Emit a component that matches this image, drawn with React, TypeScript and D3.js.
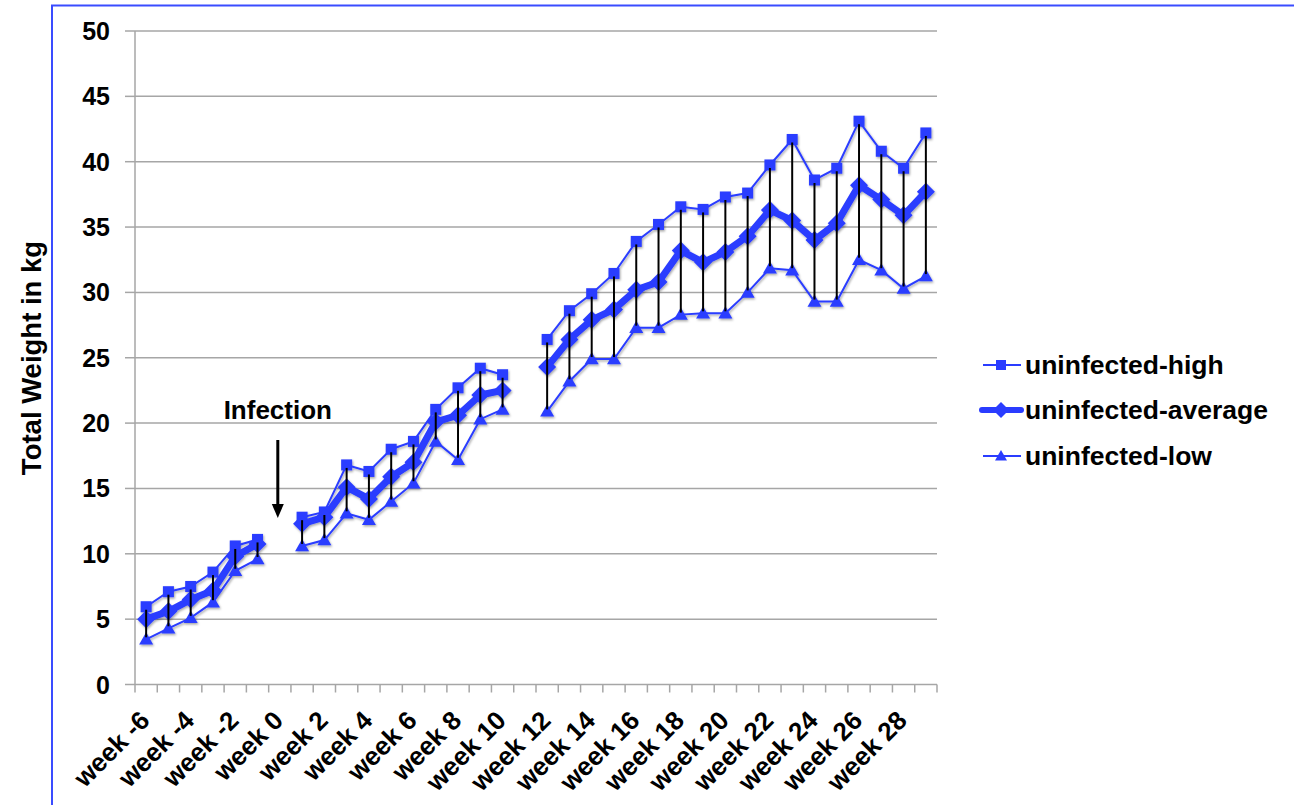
import React from "react";
import * as d3 from "d3";

// Week categories along the x axis (week 0 and week 11 have no measurements)
const weeks: number[] = [
  -6, -5, -4, -3, -2, -1, 0, 1, 2, 3, 4, 5, 6, 7, 8, 9, 10, 11,
  12, 13, 14, 15, 16, 17, 18, 19, 20, 21, 22, 23, 24, 25, 26, 27, 28, 29,
];

// Weeks that get a tick label
const labelledWeeks: number[] = [-6, -4, -2, 0, 2, 4, 6, 8, 10, 12, 14, 16, 18, 20, 22, 24, 26, 28];

const uninfectedHigh: (number | null)[] = [
  5.95, 7.1, 7.5, 8.6, 10.6, 11.1, null, 12.8, 13.2, 16.8, 16.3, 18.0, 18.6, 21.05, 22.7, 24.2, 23.7, null,
  26.4, 28.6, 29.9, 31.45, 33.9, 35.2, 36.55, 36.35, 37.3, 37.6, 39.75, 41.7, 38.6, 39.5, 43.1, 40.8, 39.5, 42.2,
];

const uninfectedAverage: (number | null)[] = [
  5.0, 5.6, 6.5, 7.2, 9.8, 10.75, null, 12.3, 12.8, 15.1, 14.2, 15.9, 17.0, 20.1, 20.6, 22.15, 22.5, null,
  24.3, 26.4, 27.9, 28.7, 30.2, 30.8, 33.2, 32.3, 33.1, 34.3, 36.3, 35.5, 34.0, 35.3, 38.2, 37.1, 35.9, 37.7,
];

const uninfectedLow: (number | null)[] = [
  3.46, 4.3, 5.1, 6.3, 8.7, 9.6, null, 10.6, 11.05, 13.1, 12.6, 14.0, 15.4, 18.6, 17.2, 20.3, 21.05, null,
  20.9, 23.2, 24.9, 24.9, 27.3, 27.3, 28.3, 28.4, 28.4, 30.0, 31.85, 31.7, 29.3, 29.3, 32.5, 31.7, 30.3, 31.25,
];

const yTicks: number[] = [0, 5, 10, 15, 20, 25, 30, 35, 40, 45, 50];

const BLUE = "#2a3cff";
const GRID = "#a6a6a6";
const FONT = "'Liberation Sans', Arial, Helvetica, sans-serif";

const PLOT = { left: 135, right: 937, top: 31, bottom: 684.5 };

export default function App() {
  const x = d3.scaleBand<number>().domain(weeks).range([PLOT.left, PLOT.right]).padding(0);
  const y = d3.scaleLinear().domain([0, 50]).range([PLOT.bottom, PLOT.top]);
  const bw = x.bandwidth();
  const cx = (w: number) => (x(w) as number) + bw / 2;

  const lineGen = d3
    .line<number | null>()
    .defined((d) => d != null)
    .x((_, i) => cx(weeks[i]))
    .y((d) => y(d as number));

  const pts = (vals: (number | null)[]) =>
    vals
      .map((v, i) => ({ v, w: weeks[i] }))
      .filter((p) => p.v != null) as { v: number; w: number }[];

  const square = (px: number, py: number, s = 11) => (
    <rect x={px - s / 2} y={py - s / 2} width={s} height={s} fill={BLUE} />
  );
  const diamond = (px: number, py: number, s = 9) => (
    <path d={`M${px},${py - s} L${px + s},${py} L${px},${py + s} L${px - s},${py} Z`} fill={BLUE} />
  );
  const triangle = (px: number, py: number, s = 7) => (
    <path d={`M${px},${py - s} L${px + s},${py + s * 0.75} L${px - s},${py + s * 0.75} Z`} fill={BLUE} />
  );

  // Tick boundaries between categories
  const boundaries = weeks.map((w) => x(w) as number).concat([PLOT.right]);

  const infectionX = cx(0) - 2;

  const legendRows = [
    { label: "uninfected-high", y: 365, kind: "high" },
    { label: "uninfected-average", y: 410, kind: "avg" },
    { label: "uninfected-low", y: 456, kind: "low" },
  ];

  return (
    <svg
      width={1294}
      height={805}
      style={{ position: "absolute", left: 0, top: 0, background: "#fff" }}
      fontFamily={FONT}
    >
      <defs>
        <filter id="mshadow" x="-20%" y="-20%" width="140%" height="140%">
          <feDropShadow dx="1" dy="1.5" stdDeviation="1.3" floodColor="#000" floodOpacity="0.35" />
        </filter>
      </defs>

      {/* frame */}
      <rect x={52} y={5.5} width={1300} height={900} fill="none" stroke="#3a4cff" strokeWidth={2} />

      {/* gridlines */}
      {yTicks.slice(1).map((t) => (
        <line key={t} x1={PLOT.left} x2={PLOT.right} y1={y(t)} y2={y(t)} stroke={GRID} strokeWidth={1.5} />
      ))}

      {/* y axis */}
      <line x1={PLOT.left} x2={PLOT.left} y1={PLOT.top} y2={PLOT.bottom} stroke={GRID} strokeWidth={1.5} />
      {yTicks.map((t) => (
        <g key={t}>
          <line x1={PLOT.left - 10} x2={PLOT.left} y1={y(t)} y2={y(t)} stroke={GRID} strokeWidth={1.5} />
          <text
            x={110}
            y={y(t)}
            textAnchor="end"
            dominantBaseline="central"
            fontSize={25}
            fontWeight="bold"
            fill="#000"
          >
            {t}
          </text>
        </g>
      ))}

      {/* x axis */}
      <line x1={PLOT.left} x2={PLOT.right} y1={PLOT.bottom} y2={PLOT.bottom} stroke={GRID} strokeWidth={1.5} />
      {boundaries.map((b, i) => (
        <line key={i} x1={b} x2={b} y1={PLOT.bottom} y2={PLOT.bottom + 8} stroke={GRID} strokeWidth={1.5} />
      ))}
      {labelledWeeks.map((w) => (
        <text
          key={w}
          transform={`translate(${cx(w) + 5},${722}) rotate(-45)`}
          textAnchor="end"
          fontSize={26}
          fontWeight="bold"
          fill="#000"
        >
          {`week ${w}`}
        </text>
      ))}

      {/* y axis title */}
      <text
        transform={`translate(41,358) rotate(-90)`}
        textAnchor="middle"
        fontSize={27.5}
        fontWeight="bold"
        fill="#000"
      >
        Total Weight in kg
      </text>

      {/* series lines and markers */}
      <g filter="url(#mshadow)">
        <path d={lineGen(uninfectedHigh) || ""} fill="none" stroke={BLUE} strokeWidth={2} />
        <path d={lineGen(uninfectedLow) || ""} fill="none" stroke={BLUE} strokeWidth={2} />
        <path
          d={lineGen(uninfectedAverage) || ""}
          fill="none"
          stroke={BLUE}
          strokeWidth={7}
          strokeLinejoin="round"
        />
        {pts(uninfectedHigh).map((p) => (
          <g key={`h${p.w}`}>{square(cx(p.w), y(p.v))}</g>
        ))}
        {pts(uninfectedLow).map((p) => (
          <g key={`l${p.w}`}>{triangle(cx(p.w), y(p.v))}</g>
        ))}
        {pts(uninfectedAverage).map((p) => (
          <g key={`a${p.w}`}>{diamond(cx(p.w), y(p.v))}</g>
        ))}
      </g>

      {/* range bars from low to high */}
      {weeks.map((w, i) => {
        const hi = uninfectedHigh[i];
        const lo = uninfectedLow[i];
        if (hi == null || lo == null) return null;
        return (
          <line
            key={`e${w}`}
            x1={cx(w)}
            x2={cx(w)}
            y1={y(hi) + 3}
            y2={y(lo) - 2}
            stroke="#000"
            strokeWidth={2}
          />
        );
      })}

      {/* infection annotation */}
      <text x={infectionX} y={419} textAnchor="middle" fontSize={26} fontWeight="bold" fill="#000">
        Infection
      </text>
      <line x1={infectionX} x2={infectionX} y1={440} y2={506} stroke="#000" strokeWidth={3} />
      <path
        d={`M${infectionX - 6},${504} L${infectionX + 6},${504} L${infectionX},${518} Z`}
        fill="#000"
      />

      {/* legend */}
      {legendRows.map((r) => (
        <g key={r.kind}>
          {r.kind === "avg" ? (
            <line x1={982} x2={1021} y1={r.y} y2={r.y} stroke={BLUE} strokeWidth={6} strokeLinecap="round" />
          ) : (
            <line x1={983} x2={1021} y1={r.y} y2={r.y} stroke={BLUE} strokeWidth={2} />
          )}
          {r.kind === "high" && square(1001, r.y, 10)}
          {r.kind === "avg" && diamond(1001, r.y, 8)}
          {r.kind === "low" && triangle(1001, r.y, 6)}
          <text x={1025} y={r.y} dominantBaseline="central" fontSize={26.5} fontWeight="bold" fill="#000">
            {r.label}
          </text>
        </g>
      ))}
    </svg>
  );
}
